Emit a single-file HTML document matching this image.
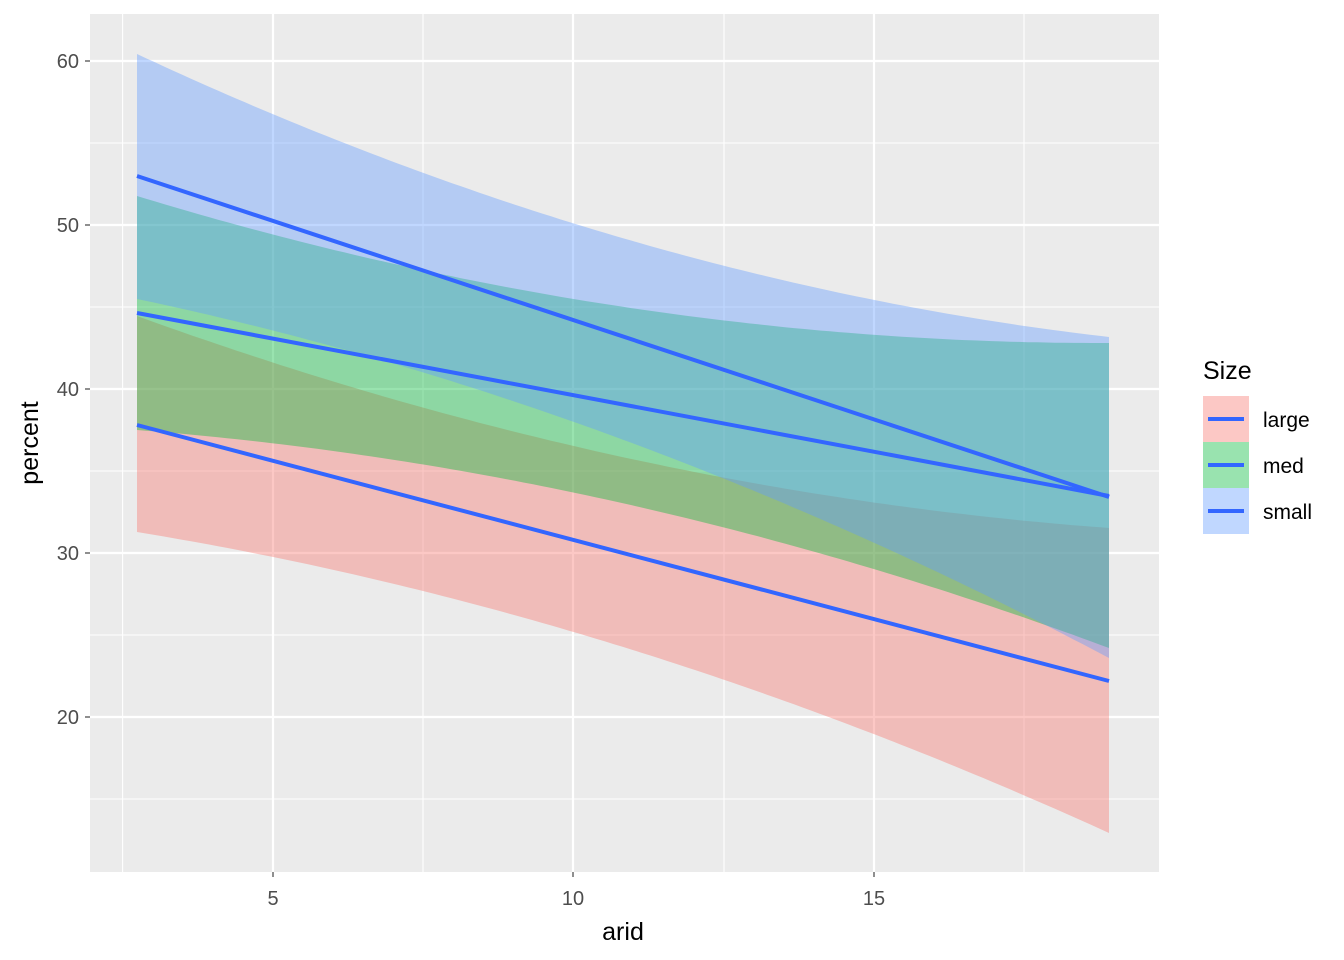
<!DOCTYPE html>
<html><head><style>body{margin:0;background:#fff}svg{display:block}text{font-family:"Liberation Sans",Arial,sans-serif}</style></head>
<body>
<svg id="s" width="1344" height="960" xmlns="http://www.w3.org/2000/svg">
<rect x="90" y="14" width="1069" height="858" fill="#EBEBEB"/>
<g stroke="#fff" stroke-width="1.1">
<line x1="122.6" y1="14" x2="122.6" y2="872"/><line x1="423" y1="14" x2="423" y2="872"/><line x1="724" y1="14" x2="724" y2="872"/><line x1="1024" y1="14" x2="1024" y2="872"/>
<line x1="90" y1="143" x2="1159" y2="143"/><line x1="90" y1="307" x2="1159" y2="307"/><line x1="90" y1="471" x2="1159" y2="471"/><line x1="90" y1="635" x2="1159" y2="635"/><line x1="90" y1="799" x2="1159" y2="799"/>
</g>
<g stroke="#fff" stroke-width="2.2">
<line x1="273" y1="14" x2="273" y2="872"/><line x1="573" y1="14" x2="573" y2="872"/><line x1="874" y1="14" x2="874" y2="872"/>
<line x1="90" y1="61" x2="1159" y2="61"/><line x1="90" y1="225" x2="1159" y2="225"/><line x1="90" y1="389" x2="1159" y2="389"/><line x1="90" y1="553" x2="1159" y2="553"/><line x1="90" y1="717" x2="1159" y2="717"/>
</g>
<g id="rib"></g>
<g stroke="#3366FF" stroke-width="4" fill="none">
<line x1="137" y1="425" x2="1109" y2="681"/>
<line x1="137" y1="313" x2="1109" y2="496"/>
<line x1="137" y1="176" x2="1109" y2="497"/>
</g>
<g stroke="#333" stroke-width="1.1">
<line x1="85" y1="61" x2="90" y2="61"/><line x1="85" y1="225" x2="90" y2="225"/><line x1="85" y1="389" x2="90" y2="389"/><line x1="85" y1="553" x2="90" y2="553"/><line x1="85" y1="717" x2="90" y2="717"/>
<line x1="273" y1="872" x2="273" y2="877"/><line x1="573" y1="872" x2="573" y2="877"/><line x1="874" y1="872" x2="874" y2="877"/>
</g>
<g fill="#4D4D4D" font-size="20" text-anchor="end">
<text x="79" y="68">60</text><text x="79" y="232">50</text><text x="79" y="396">40</text><text x="79" y="560">30</text><text x="79" y="724">20</text>
</g>
<g fill="#4D4D4D" font-size="20" text-anchor="middle">
<text x="273" y="905">5</text><text x="573" y="905">10</text><text x="874" y="905">15</text>
</g>
<text x="623" y="940" font-size="25" text-anchor="middle">arid</text>
<text transform="translate(38,443) rotate(-90)" font-size="25" text-anchor="middle">percent</text>
<text x="1203" y="379" font-size="25">Size</text>
<rect x="1203" y="396" width="46" height="46" fill="#F8766D" fill-opacity="0.4"/>
<rect x="1203" y="442" width="46" height="46" fill="#00BA38" fill-opacity="0.4"/>
<rect x="1203" y="488" width="46" height="46" fill="#619CFF" fill-opacity="0.4"/>
<g stroke="#3366FF" stroke-width="4"><line x1="1208" y1="419" x2="1244" y2="419"/><line x1="1208" y1="465" x2="1244" y2="465"/><line x1="1208" y1="511" x2="1244" y2="511"/></g>
<g font-size="21"><text x="1263" y="427">large</text><text x="1263" y="473">med</text><text x="1263" y="519">small</text></g>
</svg>
<script>
function q(p,x){var x0=137,x1=850,x2=1109;return p[0]*(x-x1)*(x-x2)/((x0-x1)*(x0-x2))+p[1]*(x-x0)*(x-x2)/((x1-x0)*(x1-x2))+p[2]*(x-x0)*(x-x1)/((x2-x0)*(x2-x1));}
var rs=[[[316,499,528],[532,725,833],"#F8766D"],[[196,333,343],[430,562,648],"#00BA38"],[[54,295,337],[299,532,658],"#619CFF"]];
var g=document.getElementById("rib"),h="";
rs.forEach(function(r){var up=[],lo=[];for(var x=137;x<=1109;x+=9){up.push(x+","+q(r[0],x).toFixed(1));lo.unshift(x+","+q(r[1],x).toFixed(1));}
up.push("1109,"+r[0][2]);lo.unshift("1109,"+r[1][2]);
h+='<polygon points="'+up.concat(lo).join(" ")+'" fill="'+r[2]+'" fill-opacity="0.4"/>';});
g.innerHTML=h;
</script>
</body></html>
